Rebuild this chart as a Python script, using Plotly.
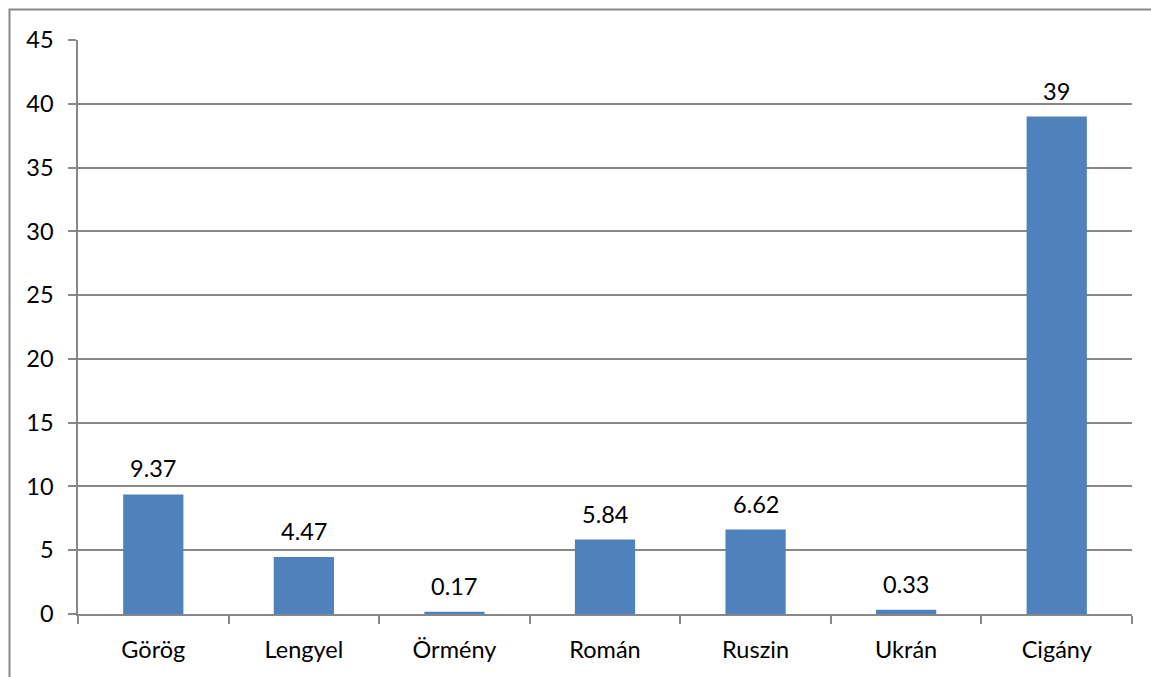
import plotly.graph_objects as go

categories = ["Görög", "Lengyel", "Örmény", "Román", "Ruszin", "Ukrán", "Cigány"]
values = [9.37, 4.47, 0.17, 5.84, 6.62, 0.33, 39]
value_labels = ["9.37", "4.47", "0.17", "5.84", "6.62", "0.33", "39"]

W, H = 1151, 677
ML, MR, MT, MB = 78, 19, 40, 63
GRAY = "#878787"
FONT = dict(family="Lato, 'Noto Sans', sans-serif", size=23.5, color="#000000")

fig = go.Figure(
    go.Bar(
        x=categories,
        y=values,
        marker=dict(color="#4F81BD", line=dict(width=0)),
        width=0.4,
        hoverinfo="x+y",
    )
)

# value labels above each bar
for c, v, t in zip(categories, values, value_labels):
    fig.add_annotation(
        x=c, y=v, text=t, showarrow=False, yanchor="bottom", yshift=10, font=FONT
    )

# outer chart frame (runs off the right and bottom edges)
pw, ph = W - ML - MR, H - MT - MB
fig.add_shape(
    type="rect",
    xref="paper", yref="paper",
    x0=(9.5 - ML) / pw, x1=(W + 10 - ML) / pw,
    y0=-(H + 10 - (H - MB)) / ph, y1=1 + (MT - 9.5) / ph,
    line=dict(color=GRAY, width=2),
    fillcolor="rgba(0,0,0,0)",
    layer="below",
)

fig.update_layout(
    width=W, height=H,
    margin=dict(l=ML, r=MR, t=MT, b=MB, pad=0),
    paper_bgcolor="white", plot_bgcolor="white",
    font=FONT,
    showlegend=False,
    bargap=0.6,
)
fig.update_xaxes(
    showline=True, linecolor=GRAY, linewidth=1.5,
    ticks="outside", tickson="boundaries", ticklen=8, tickcolor=GRAY, tickwidth=1.5,
    showgrid=False, tickfont=FONT, ticklabelstandoff=14,
)
fig.update_yaxes(
    range=[0, 45], dtick=5, tick0=0,
    showline=True, linecolor=GRAY, linewidth=1.5,
    ticks="outside", ticklen=8, tickcolor=GRAY, tickwidth=1.5,
    showgrid=True, gridcolor=GRAY, gridwidth=1.5,
    zeroline=False, tickfont=FONT, ticklabelstandoff=10,
)

fig.write_html("out.html")
